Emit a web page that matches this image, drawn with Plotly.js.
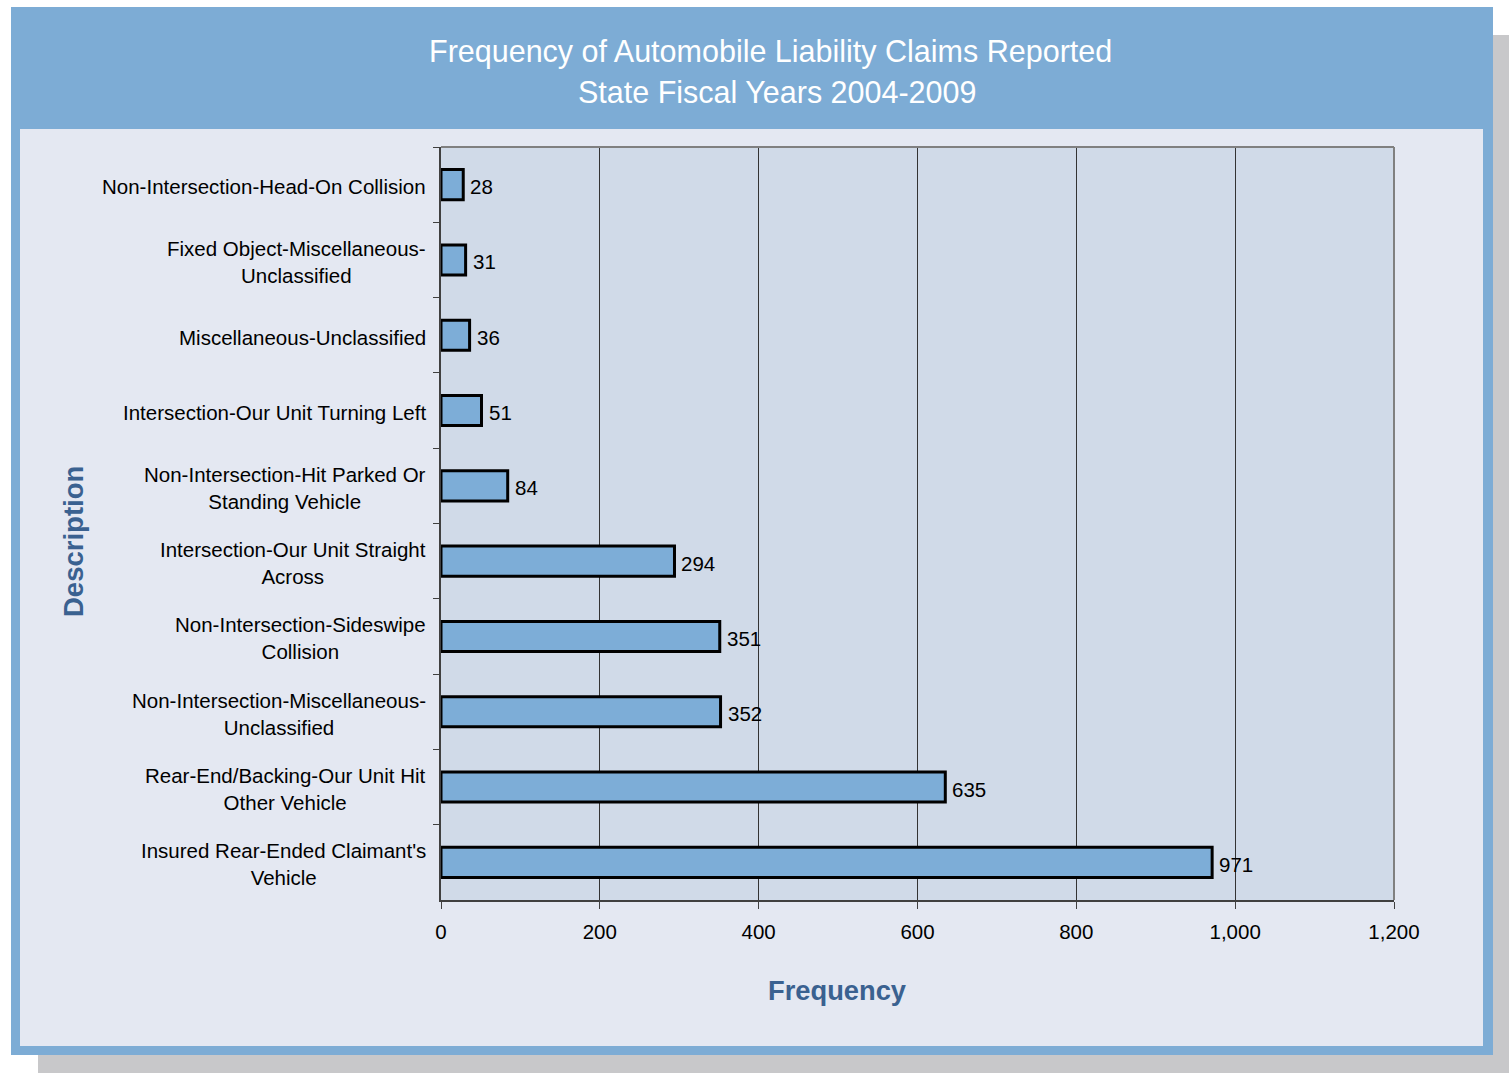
<!DOCTYPE html>
<html>
<head>
<meta charset="utf-8">
<script src="https://cdn.plot.ly/plotly-3.0.1.min.js"></script>
<style>html,body{margin:0;padding:0;background:#fff;}#chart{width:1509px;height:1073px;}</style>
</head>
<body>
<div id="chart"></div>
<script>
// ---- data ----
const descriptions = [
  "Non-Intersection-Head-On Collision",
  "Fixed Object-Miscellaneous-<br>Unclassified",
  "Miscellaneous-Unclassified",
  "Intersection-Our Unit Turning Left",
  "Non-Intersection-Hit Parked Or<br>Standing Vehicle",
  "Intersection-Our Unit Straight<br>Across",
  "Non-Intersection-Sideswipe<br>Collision",
  "Non-Intersection-Miscellaneous-<br>Unclassified",
  "Rear-End/Backing-Our Unit Hit<br>Other Vehicle",
  "Insured Rear-Ended Claimant's<br>Vehicle"
];
const frequencies = [28, 31, 36, 51, 84, 294, 351, 352, 635, 971];
const xTickValues = [0, 200, 400, 600, 800, 1000, 1200];
const xTickLabels = ["0", "200", "400", "600", "800", "1,000", "1,200"];
const titleLines = ["Frequency of Automobile Liability Claims Reported", "State Fiscal Years 2004-2009"];
const xTitle = "Frequency";
const yTitle = "Description";

// ---- layout helpers ----
const W = 1509, H = 1073;
const M = {l: 441, r: 115, t: 147, b: 173};
const PW = W - M.l - M.r, PH = H - M.t - M.b;
const px = v => (v - M.l) / PW;
const py = v => (M.t + PH - v) / PH;
const FONT = "Liberation Sans, Arial, Helvetica, sans-serif";

function rect(x0, y0, x1, y1, fill, layer) {
  return {type: 'rect', xref: 'paper', yref: 'paper', x0: px(x0), x1: px(x1), y0: py(y0), y1: py(y1),
          fillcolor: fill, line: {width: 0}, layer: layer || 'below'};
}
function line(x0, y0, x1, y1, color, w) {
  return {type: 'line', xref: 'paper', yref: 'paper', x0: px(x0), x1: px(x1), y0: py(y0), y1: py(y1),
          line: {color: color, width: w}, layer: 'above'};
}

const shapes = [
  rect(38, 35, 1509, 1073, '#C8C8CA'),
  rect(11, 7, 1493, 1055, '#7DACD5'),
  rect(20, 129, 1483, 1046, '#E4E8F2'),
  rect(441, 147, 1394, 900, '#D0DAE8'),
  line(441, 147, 1394, 147, '#808080', 2),
  line(1394, 147, 1394, 900, '#808080', 2)
];

const annotations = [];
annotations.push({xref: 'paper', yref: 'paper', x: px(770), y: py(52), xanchor: 'center', yanchor: 'middle',
  text: titleLines[0], showarrow: false, font: {family: FONT, size: 30.5, color: '#FFFFFF'}});
annotations.push({xref: 'paper', yref: 'paper', x: px(777), y: py(92), xanchor: 'center', yanchor: 'middle',
  text: titleLines[1], showarrow: false, font: {family: FONT, size: 30.5, color: '#FFFFFF'}});
annotations.push({xref: 'paper', yref: 'paper', x: px(837), y: py(991), xanchor: 'center', yanchor: 'middle',
  text: '<b>' + xTitle + '</b>', showarrow: false, font: {family: FONT, size: 27.3, color: '#3A6190'}});
annotations.push({xref: 'paper', yref: 'paper', x: px(73), y: py(542), xanchor: 'center', yanchor: 'middle',
  text: '<b>' + yTitle + '</b>', textangle: -90, showarrow: false, font: {family: FONT, size: 27.5, color: '#3A6190'}});
descriptions.forEach((d, i) => {
  annotations.push({xref: 'paper', yref: 'y', x: 0, y: i, xanchor: 'right', yanchor: 'middle', xshift: -13, yshift: -2,
    align: 'center', text: d, showarrow: false, font: {family: FONT, size: 20.5, color: '#000000'}});
});
frequencies.forEach((v, i) => {
  annotations.push({xref: 'x', yref: 'y', x: v, y: i, xanchor: 'left', yanchor: 'middle', xshift: 5, yshift: -2,
    text: String(v), showarrow: false, font: {family: FONT, size: 20.5, color: '#000000'}});
});

const trace = {
  type: 'bar', orientation: 'h',
  y: descriptions, x: frequencies,
  marker: {color: '#7DADD7', line: {color: '#000000', width: 3}},
  hoverinfo: 'none'
};

const layout = {
  width: W, height: H,
  margin: M,
  paper_bgcolor: '#FFFFFF', plot_bgcolor: 'rgba(0,0,0,0)',
  font: {family: FONT, size: 20, color: '#000000'},
  showlegend: false,
  bargap: 0.6,
  xaxis: {
    range: [0, 1200], tickvals: xTickValues, ticktext: xTickLabels,
    showgrid: true, gridcolor: '#333333', gridwidth: 1,
    zeroline: false, showline: true, linecolor: '#404040', linewidth: 2,
    ticks: 'outside', ticklen: 7, tickcolor: '#404040', tickwidth: 1,
    tickfont: {family: FONT, size: 20.5, color: '#000000'}, ticklabelstandoff: 5
  },
  yaxis: {
    type: 'category', range: [descriptions.length - 0.5, -0.5],
    showticklabels: false, showgrid: false, zeroline: false,
    showline: true, linecolor: '#404040', linewidth: 2,
    ticks: 'outside', tickson: 'boundaries', ticklen: 6, tickcolor: '#404040', tickwidth: 1
  },
  shapes: shapes,
  annotations: annotations
};

Plotly.newPlot('chart', [trace], layout, {displayModeBar: false, staticPlot: true});
</script>
</body>
</html>
